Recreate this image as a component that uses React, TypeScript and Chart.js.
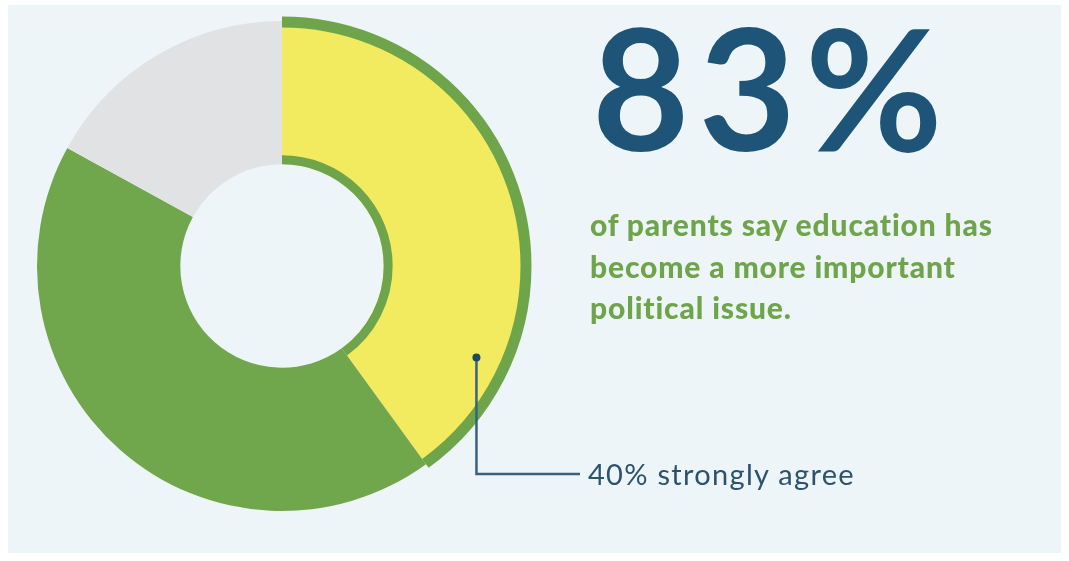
import React, { useEffect, useRef } from "react";
import { Chart, registerables } from "chart.js";

Chart.register(...registerables);

const categories = ["Strongly agree", "Somewhat agree", "Do not agree"];
const shares = [40, 43, 17];
const sliceColors = ["#f2ea5f", "#71a74c", "#e1e2e4"];
const headline = "83%";
const subtitleLines = ["of parents say education has", "become a more important", "political issue."];
const calloutLabel = "40% strongly agree";

const GREEN = "#6fa54a";
const NAVY = "#1d5478";
const LINE = "#3b627c";

const highlightPlugin = {
  id: "highlight",
  afterDatasetsDraw(chart: any) {
    const meta = chart.getDatasetMeta(0);
    const arc = meta.data[0];
    if (!arc) return;
    const { x, y, startAngle, endAngle, outerRadius, innerRadius } = arc.getProps(
      ["x", "y", "startAngle", "endAngle", "outerRadius", "innerRadius"],
      true
    );
    const ctx = chart.ctx;
    ctx.save();
    ctx.strokeStyle = GREEN;
    ctx.lineCap = "butt";
    // outer border
    ctx.lineWidth = 11;
    ctx.beginPath();
    ctx.arc(x, y, outerRadius - 1, startAngle, endAngle);
    ctx.stroke();
    // inner border
    ctx.lineWidth = 9;
    ctx.beginPath();
    ctx.arc(x, y, innerRadius + 4.5, startAngle, endAngle);
    ctx.stroke();

    // leader line
    const a = startAngle + 0.8 * (endAngle - startAngle);
    const r = innerRadius + 0.79 * (outerRadius - innerRadius);
    const px = x + r * Math.cos(a);
    const py = y + r * Math.sin(a);
    const labelY = 474;
    const labelX = 580;
    ctx.strokeStyle = LINE;
    ctx.lineWidth = 2.5;
    ctx.beginPath();
    ctx.moveTo(px, py);
    ctx.lineTo(px, labelY);
    ctx.lineTo(labelX, labelY);
    ctx.stroke();
    ctx.fillStyle = "#1d4a63";
    ctx.beginPath();
    ctx.arc(px, py, 4, 0, Math.PI * 2);
    ctx.fill();
    ctx.restore();
  },
};

export default function App() {
  const canvasRef = useRef<HTMLCanvasElement | null>(null);

  useEffect(() => {
    if (!canvasRef.current) return;
    const chart = new Chart(canvasRef.current, {
      type: "doughnut",
      data: {
        labels: categories,
        datasets: [
          {
            data: shares,
            backgroundColor: sliceColors,
            borderWidth: 0,
          },
        ],
      },
      options: {
        animation: false,
        responsive: false,
        events: [],
        radius: 245,
        cutout: "41.5%",
        layout: { padding: { left: 20, right: 525, top: 18, bottom: 47 } },
        plugins: {
          legend: { display: false },
          tooltip: { enabled: false },
        },
      } as any,
      plugins: [highlightPlugin],
    });
    return () => chart.destroy();
  }, []);

  return (
    <div
      style={{
        position: "fixed",
        left: 0,
        top: 0,
        width: 1069,
        height: 561,
        background: "#ffffff",
        overflow: "hidden",
        fontFamily: "Lato, 'Open Sans', sans-serif",
      }}
    >
      <div
        style={{
          position: "absolute",
          left: 8,
          top: 5,
          width: 1053,
          height: 548,
          background: "#edf5f8",
        }}
      />
      <canvas
        ref={canvasRef}
        width={1069}
        height={561}
        style={{ position: "absolute", left: 0, top: 0, width: 1069, height: 561 }}
      />
      <div
        style={{
          position: "absolute",
          left: 592,
          top: 2,
          fontSize: 168,
          lineHeight: 1,
          fontWeight: 700,
          color: NAVY,
          letterSpacing: 9,
          whiteSpace: "nowrap",
        }}
      >
        {headline}
      </div>
      <div
        style={{
          position: "absolute",
          left: 590,
          top: 204,
          fontSize: 30,
          lineHeight: "41.5px",
          fontWeight: 900,
          color: GREEN,
          letterSpacing: 0.85,
          whiteSpace: "nowrap",
        }}
      >
        {subtitleLines.map((l) => (
          <div key={l}>{l}</div>
        ))}
      </div>
      <div
        style={{
          position: "absolute",
          left: 588,
          top: 455,
          fontSize: 29,
          lineHeight: "38px",
          fontWeight: 400,
          color: "#2c536e",
          letterSpacing: 1.3,
          whiteSpace: "nowrap",
        }}
      >
        {calloutLabel}
      </div>
    </div>
  );
}
